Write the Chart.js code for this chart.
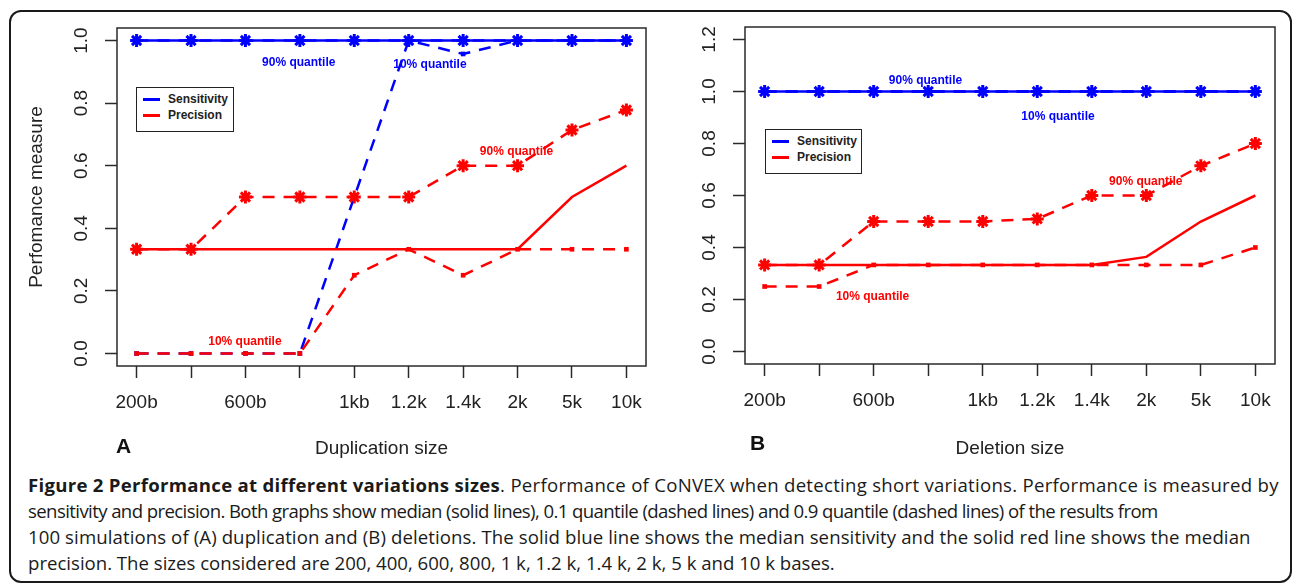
<!DOCTYPE html>
<html lang="en">
<head>
    <meta charset="UTF-8">
    <title>Figure 2</title>
    <script src="https://cdn.jsdelivr.net/npm/chart.js@4.4.0/dist/chart.umd.min.js"></script>
    <style>
        body { margin: 0; background: #fff; width: 1293px; height: 584px; position: relative; overflow: hidden; }
        .frame { position: absolute; left: 9px; top: 10px; width: 1279px; height: 569px; border: 2px solid #1a1a1a; border-radius: 12px; }
        .panel { position: absolute; top: 0; }
        .legend { position: absolute; border: 1.5px solid #222; background: #fff; font: bold 12px "Liberation Sans", Arial, sans-serif; color: #222; padding: 3px 0 0 6px; box-sizing: border-box; }
        .legend div { height: 16px; line-height: 16px; white-space: nowrap; }
        .legend span { display: inline-block; width: 17px; height: 3px; vertical-align: middle; margin-right: 8px; }
        .tag { position: absolute; font: bold 21px "Liberation Sans", Arial, sans-serif; color: #111; }
        .caption { position: absolute; left: 28px; top: 472px; font: 18.6px "Open Sans", sans-serif; line-height: 26px; color: #1a1a1a; white-space: nowrap; }
        .caption div { height: 26px; }
    </style>
</head>
<body>
    <div class="frame"></div>
    <canvas id="chart-dup" class="panel" style="left:0px" width="660" height="470"></canvas>
    <canvas id="chart-del" class="panel" style="left:660px" width="633" height="470"></canvas>

    <div class="legend" style="left:136px; top:87px; width:98px; height:45px">
        <div><span style="background:#0000ff"></span>Sensitivity</div>
        <div><span style="background:#ff0000"></span>Precision</div>
    </div>
    <div class="legend" style="left:765px; top:129px; width:97px; height:45px">
        <div><span style="background:#0000ff"></span>Sensitivity</div>
        <div><span style="background:#ff0000"></span>Precision</div>
    </div>
    <div class="tag" style="left:116px; top:434px">A</div>
    <div class="tag" style="left:750px; top:431px">B</div>

    <div class="caption">
        <div style="letter-spacing:0.28px"><b>Figure 2 Performance at different variations sizes</b>. Performance of CoNVEX when detecting short variations. Performance is measured by</div>
        <div style="letter-spacing:-0.6px">sensitivity and precision. Both graphs show median (solid lines), 0.1 quantile (dashed lines) and 0.9 quantile (dashed lines) of the results from</div>
        <div style="letter-spacing:0.1px">100 simulations of (A) duplication and (B) deletions. The solid blue line shows the median sensitivity and the solid red line shows the median</div>
        <div>precision. The sizes considered are 200, 400, 600, 800, 1 k, 1.2 k, 1.4 k, 2 k, 5 k and 10 k bases.</div>
    </div>

    <script>
        // variation sizes (x axis)
        var categories = ['200b', '400b', '600b', '800b', '1kb', '1.2k', '1.4k', '2k', '5k', '10k'];
        var xTickLabels = ['200b', '', '600b', '', '1kb', '1.2k', '1.4k', '2k', '5k', '10k'];

        // A: duplications
        var dupSensMedian = [1, 1, 1, 1, 1, 1, 1, 1, 1, 1];
        var dupSensQ90 = [1, 1, 1, 1, 1, 1, 1, 1, 1, 1];
        var dupSensQ10 = [0, 0, 0, 0, 0.5, 1, 0.957, 1, 1, 1];
        var dupPrecMedian = [0.333, 0.333, 0.333, 0.333, 0.333, 0.333, 0.333, 0.333, 0.5, 0.6];
        var dupPrecQ90 = [0.333, 0.333, 0.5, 0.5, 0.5, 0.5, 0.6, 0.6, 0.714, 0.778];
        var dupPrecQ10 = [0, 0, 0, 0, 0.25, 0.333, 0.25, 0.333, 0.333, 0.333];
        var dupYTicks = [0, 0.2, 0.4, 0.6, 0.8, 1.0];

        // B: deletions
        var delSensMedian = [1, 1, 1, 1, 1, 1, 1, 1, 1, 1];
        var delSensQ90 = [1, 1, 1, 1, 1, 1, 1, 1, 1, 1];
        var delSensQ10 = [1, 1, 1, 1, 1, 1, 1, 1, 1, 1];
        var delPrecMedian = [0.333, 0.333, 0.333, 0.333, 0.333, 0.333, 0.333, 0.364, 0.5, 0.6];
        var delPrecQ90 = [0.333, 0.333, 0.5, 0.5, 0.5, 0.51, 0.6, 0.6, 0.714, 0.8];
        var delPrecQ10 = [0.25, 0.25, 0.333, 0.333, 0.333, 0.333, 0.333, 0.333, 0.333, 0.4];
        var delYTicks = [0, 0.2, 0.4, 0.6, 0.8, 1.0, 1.2];

        // quantile labels: [text, x position (1 = first size), y value, colour]
        var dupNotes = [
            ['90% quantile', 3.98, 0.929, '#0000ff'],
            ['10% quantile', 6.39, 0.923, '#0000ff'],
            ['90% quantile', 7.98, 0.646, '#ff0000'],
            ['10% quantile', 2.99, 0.039, '#ff0000']
        ];
        var delNotes = [
            ['90% quantile', 3.95, 1.042, '#0000ff'],
            ['10% quantile', 6.38, 0.904, '#0000ff'],
            ['90% quantile', 7.99, 0.654, '#ff0000'],
            ['10% quantile', 2.98, 0.212, '#ff0000']
        ];

        var BLUE = '#0000ff';
        var RED = '#ff0000';
        var AXIS = '#2a2a2a';
        var FONT = '"Liberation Sans", Arial, sans-serif';

        function pts(values) {
            return values.map(function (v, i) { return { x: i + 1, y: v }; });
        }

        function series(values, color, kind, order) {
            var ds = {
                data: pts(values),
                borderColor: color,
                backgroundColor: color,
                borderWidth: 2.5,
                tension: 0,
                order: order,
                pointRadius: 0
            };
            if (kind !== 'median') ds.borderDash = [12, 9];
            if (kind === 'q90') {
                ds.pointStyle = 'star';
                ds.pointRadius = 6.5;
                ds.pointBorderWidth = 3;
            }
            if (kind === 'q10') {
                ds.pointStyle = 'rect';
                ds.pointRadius = 3.3;
                ds.pointBorderWidth = 0;
            }
            return ds;
        }

        // box around plot region + quantile notes
        var boxPlugin = {
            id: 'rbox',
            afterDatasetsDraw: function (chart) {
                var ctx = chart.ctx, a = chart.chartArea;
                var notes = chart.options.plugins.rbox.notes;
                ctx.save();
                ctx.font = 'bold 12px ' + FONT;
                ctx.textAlign = 'center';
                ctx.textBaseline = 'middle';
                notes.forEach(function (n) {
                    ctx.fillStyle = n[3];
                    ctx.fillText(n[0], chart.scales.x.getPixelForValue(n[1]), chart.scales.y.getPixelForValue(n[2]));
                });
                ctx.strokeStyle = AXIS;
                ctx.lineWidth = 1.5;
                ctx.strokeRect(a.left, a.top, a.right - a.left, a.bottom - a.top);
                ctx.restore();
            }
        };

        function makeChart(id, opt) {
            var ctx = document.getElementById(id).getContext('2d');
            return new Chart(ctx, {
                type: 'line',
                data: {
                    datasets: [
                        series(opt.sensMedian, BLUE, 'median', 6),
                        series(opt.sensQ90, BLUE, 'q90', 5),
                        series(opt.sensQ10, BLUE, 'q10', 4),
                        series(opt.precMedian, RED, 'median', 3),
                        series(opt.precQ90, RED, 'q90', 2),
                        series(opt.precQ10, RED, 'q10', 1)
                    ]
                },
                plugins: [boxPlugin],
                options: {
                    responsive: false,
                    animation: false,
                    layout: { padding: { left: 0, top: opt.top, right: opt.right, bottom: 0 } },
                    plugins: {
                        legend: { display: false },
                        tooltip: { enabled: false },
                        rbox: { notes: opt.notes }
                    },
                    scales: {
                        x: {
                            type: 'linear',
                            min: 0.64,
                            max: 10.36,
                            afterBuildTicks: function (s) {
                                s.ticks = categories.map(function (c, i) { return { value: i + 1 }; });
                            },
                            afterFit: function (s) { s.height = opt.xHeight; },
                            border: { display: false },
                            grid: { drawOnChartArea: false, drawTicks: true, tickLength: 12, tickColor: AXIS, tickWidth: 1.5 },
                            ticks: {
                                autoSkip: false,
                                maxRotation: 0,
                                padding: 13,
                                color: '#222',
                                font: { family: FONT, size: 19 },
                                callback: function (v) { return xTickLabels[Math.round(v) - 1]; }
                            },
                            title: {
                                display: true,
                                text: opt.xTitle,
                                color: '#222',
                                font: { family: FONT, size: 19 },
                                padding: { top: 0, bottom: 10 }
                            }
                        },
                        y: {
                            min: opt.yMin,
                            max: opt.yMax,
                            afterBuildTicks: function (s) {
                                s.ticks = opt.yTicks.map(function (v) { return { value: v }; });
                            },
                            afterFit: function (s) { s.width = opt.yWidth; },
                            border: { display: false },
                            grid: { drawOnChartArea: false, drawTicks: true, tickLength: 12, tickColor: AXIS, tickWidth: 1.5 },
                            ticks: {
                                minRotation: 90,
                                maxRotation: 90,
                                crossAlign: 'center',
                                padding: 10,
                                color: '#222',
                                font: { family: FONT, size: 19 },
                                callback: function (v) { return v.toFixed(1); }
                            },
                            title: {
                                display: !!opt.yTitle,
                                text: opt.yTitle || '',
                                color: '#222',
                                font: { family: FONT, size: 19 },
                                padding: { top: 25, bottom: 0 }
                            }
                        }
                    }
                }
            });
        }

        makeChart('chart-dup', {
            sensMedian: dupSensMedian, sensQ90: dupSensQ90, sensQ10: dupSensQ10,
            precMedian: dupPrecMedian, precQ90: dupPrecQ90, precQ10: dupPrecQ10,
            notes: dupNotes, yTicks: dupYTicks, yMin: -0.04, yMax: 1.04,
            xTitle: 'Duplication size', yTitle: 'Perfomance measure',
            top: 28, right: 14, xHeight: 104, yWidth: 117
        });

        makeChart('chart-del', {
            sensMedian: delSensMedian, sensQ90: delSensQ90, sensQ10: delSensQ10,
            precMedian: delPrecMedian, precQ90: delPrecQ90, precQ10: delPrecQ10,
            notes: delNotes, yTicks: delYTicks, yMin: -0.048, yMax: 1.248,
            xTitle: 'Deletion size', yTitle: null,
            top: 27, right: 18, xHeight: 106, yWidth: 85
        });
    </script>
</body>
</html>
